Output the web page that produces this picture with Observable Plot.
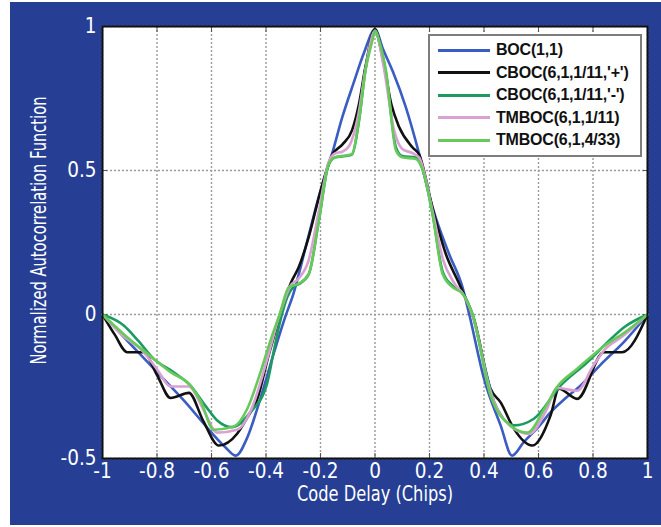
<!DOCTYPE html>
<html>
<head>
<meta charset="utf-8">
<script src="https://cdn.jsdelivr.net/npm/d3@7"></script>
<script src="https://cdn.jsdelivr.net/npm/@observablehq/plot@0.6"></script>
<style>
  html, body { margin: 0; padding: 0; background: #ffffff; }
  body { width: 661px; height: 527px; overflow: hidden; position: relative; }
  #panel { position: absolute; left: 10px; top: 2px; width: 651px; height: 523px; background: #263f95; }
  #legend { position: absolute; left: 428px; top: 34px; width: 210px; height: 116px; background: #fff;
            border: 2px solid #7d7d7d; padding-top: 3px; box-sizing: content-box;
            font-family: "Liberation Sans", Arial, sans-serif; font-weight: bold; font-size: 16px; color: #111; letter-spacing: -0.2px; }
  .row { height: 22.5px; display: flex; align-items: center; }
  .sw { width: 52px; height: 3px; margin-left: 8px; margin-right: 6px; }
</style>
</head>
<body>
<div id="panel"><div id="chart"></div></div>
<div id="legend"></div>
<script>
// ---- data ----
const seriesNames = ["BOC(1,1)", "CBOC(6,1,1/11,'+')", "CBOC(6,1,1/11,'-')", "TMBOC(6,1,1/11)", "TMBOC(6,1,4/33)"];
const seriesColors = ["#3b5cc0", "#111111", "#1c9a62", "#d9a0d2", "#66c95a"];

const boc = [[-1,0],[-0.9,-0.1],[-0.8,-0.2],[-0.7,-0.3],[-0.6,-0.41],[-0.55,-0.46],[-0.51,-0.49],[-0.47,-0.43],[-0.42,-0.29],[-0.37,-0.13],
  [-0.33,-0.01],[-0.3,0.07],[-0.25,0.25],[-0.2,0.43],[-0.157,0.56],[-0.12,0.685],[-0.08,0.8],[-0.04,0.91],[0,0.99],[0.03,0.92],
  [0.064,0.847],[0.113,0.72],[0.162,0.558],[0.211,0.373],[0.272,0.21],[0.321,0.095],[0.346,0],[0.4,-0.223],[0.461,-0.385],[0.503,-0.49],
  [0.546,-0.443],[0.6,-0.39],[0.644,-0.34],[0.7,-0.29],[0.754,-0.247],[0.84,-0.163],[0.913,-0.096],[1,0]];

const cbocPlus = [[-1,0],[-0.955,-0.07],[-0.909,-0.131],[-0.849,-0.131],[-0.8,-0.21],[-0.75,-0.29],[-0.683,-0.272],[-0.63,-0.37],[-0.573,-0.455],[-0.506,-0.414],
  [-0.47,-0.36],[-0.432,-0.293],[-0.39,-0.14],[-0.347,0],[-0.31,0.107],[-0.28,0.164],[-0.243,0.27],[-0.206,0.407],[-0.157,0.555],[-0.12,0.59],
  [-0.084,0.64],[-0.059,0.73],[-0.035,0.86],[0,0.99],[0.03,0.88],[0.06,0.73],[0.089,0.65],[0.138,0.58],[0.162,0.555],[0.211,0.37],
  [0.26,0.21],[0.309,0.107],[0.34,0.04],[0.363,-0.015],[0.424,-0.258],[0.461,-0.305],[0.51,-0.397],[0.577,-0.455],[0.644,-0.351],[0.675,-0.258],
  [0.742,-0.293],[0.84,-0.131],[0.907,-0.131],[1,0]];

const cbocMinus = [[-1,0],[-0.922,-0.038],[-0.87,-0.09],[-0.812,-0.154],[-0.74,-0.2],[-0.677,-0.247],[-0.62,-0.32],[-0.579,-0.368],[-0.524,-0.391],[-0.457,-0.339],
  [-0.396,-0.24],[-0.37,-0.12],[-0.347,-0.02],[-0.322,0.06],[-0.3,0.095],[-0.28,0.105],[-0.243,0.14],[-0.206,0.326],[-0.17,0.52],[-0.145,0.546],
  [-0.108,0.55],[-0.084,0.556],[-0.059,0.67],[-0.035,0.85],[-0.01,0.96],[0,0.985],[0.02,0.93],[0.04,0.84],[0.077,0.58],[0.1,0.55],
  [0.15,0.545],[0.172,0.51],[0.211,0.35],[0.248,0.15],[0.284,0.1],[0.321,0.075],[0.358,0],[0.4,-0.17],[0.436,-0.3],[0.47,-0.36],
  [0.51,-0.385],[0.583,-0.362],[0.681,-0.247],[0.779,-0.166],[0.86,-0.09],[0.913,-0.045],[1,0]];

const tmboc111 = [[-1,0],[-0.93,-0.07],[-0.85,-0.13],[-0.8,-0.19],[-0.75,-0.25],[-0.683,-0.25],[-0.63,-0.33],[-0.579,-0.41],[-0.506,-0.4],[-0.45,-0.32],
  [-0.4,-0.17],[-0.35,0],[-0.31,0.1],[-0.28,0.125],[-0.243,0.19],[-0.206,0.36],[-0.17,0.53],[-0.145,0.56],[-0.12,0.565],[-0.095,0.585],
  [-0.06,0.7],[-0.035,0.85],[0,0.985],[0.03,0.87],[0.07,0.64],[0.1,0.575],[0.138,0.56],[0.162,0.545],[0.211,0.36],[0.25,0.19],
  [0.29,0.11],[0.33,0.06],[0.36,-0.01],[0.424,-0.27],[0.5,-0.39],[0.565,-0.415],[0.63,-0.33],[0.668,-0.255],[0.742,-0.265],[0.8,-0.18],
  [0.84,-0.125],[0.91,-0.075],[1,0]];

const tmboc433 = [[-1,0],[-0.92,-0.07],[-0.83,-0.14],[-0.75,-0.2],[-0.677,-0.247],[-0.64,-0.3],[-0.592,-0.4],[-0.52,-0.39],[-0.47,-0.33],[-0.42,-0.2],
  [-0.38,-0.08],[-0.35,0],[-0.316,0.095],[-0.28,0.107],[-0.243,0.141],[-0.206,0.326],[-0.17,0.523],[-0.145,0.546],[-0.108,0.552],[-0.084,0.558],
  [-0.059,0.674],[-0.035,0.847],[-0.01,0.95],[0,0.985],[0.015,0.95],[0.04,0.847],[0.077,0.57],[0.1,0.546],[0.15,0.54],[0.172,0.51],
  [0.211,0.35],[0.248,0.141],[0.284,0.095],[0.321,0.072],[0.358,0],[0.424,-0.281],[0.497,-0.385],[0.56,-0.41],[0.62,-0.33],[0.668,-0.252],
  [0.74,-0.19],[0.84,-0.11],[0.92,-0.06],[1,0]];

const xTicks = [-1, -0.8, -0.6, -0.4, -0.2, 0, 0.2, 0.4, 0.6, 0.8, 1];
const yTicks = [-0.5, 0, 0.5, 1];
const xLabel = "Code Delay (Chips)";
const yLabel = "Normalized Autocorrelation Function";

// ---- build table ----
const seriesPoints = [boc, cbocPlus, cbocMinus, tmboc111, tmboc433];
const rows = seriesPoints.flatMap((pts, i) => pts.map(([x, y]) => ({x, y, name: seriesNames[i]})));

const font = "'DejaVu Sans Condensed', 'Liberation Sans Narrow', 'DejaVu Sans', sans-serif";
const tickStroke = {stroke: "#555", strokeWidth: 1};

const chart = Plot.plot({
  width: 651, height: 523,
  marginLeft: 92, marginRight: 14, marginTop: 24, marginBottom: 67,
  style: {background: "transparent", color: "white", fontFamily: font, fontSize: "20px", overflow: "visible"},
  x: {domain: [-1, 1]},
  y: {domain: [-0.5, 1]},
  color: {domain: seriesNames, range: seriesColors},
  marks: [
    Plot.frame({fill: "white", stroke: null}),
    Plot.gridX(xTicks, {stroke: "#9a9a9a", strokeOpacity: 1, strokeDasharray: "2,2", strokeWidth: 1.4}),
    Plot.gridY(yTicks, {stroke: "#9a9a9a", strokeOpacity: 1, strokeDasharray: "2,2", strokeWidth: 1.4}),
    Plot.axisX(xTicks, {anchor: "bottom", tickSize: -5, text: null, ...tickStroke, label: null}),
    Plot.axisX(xTicks, {anchor: "top", tickSize: -5, text: null, ...tickStroke, label: null}),
    Plot.axisY(yTicks, {anchor: "left", tickSize: -5, text: null, ...tickStroke, label: null}),
    Plot.axisY(yTicks, {anchor: "right", tickSize: -5, text: null, ...tickStroke, label: null}),
    Plot.axisX(xTicks, {tickSize: 0, tickPadding: 5, tickFormat: d => String(d), fill: "white", fontSize: 20.5, label: null}),
    Plot.axisY(yTicks, {tickSize: 0, tickPadding: 6, tickFormat: d => String(d), fill: "white", fontSize: 20.5, label: null}),
    Plot.line(rows, {x: "x", y: "y", z: "name", stroke: "name", strokeWidth: 2.6, curve: "monotone-x", strokeLinejoin: "round"}),
    Plot.frame({stroke: "#111", strokeWidth: 2}),
    Plot.text([xLabel], {frameAnchor: "bottom", dy: 42, fill: "white", fontSize: 21}),
    Plot.text([yLabel], {frameAnchor: "left", textAnchor: "middle", rotate: -90, dx: -63, dy: -12, fill: "white", fontSize: 21})
  ]
});
document.getElementById("chart").appendChild(chart);

// squeeze the axis titles to the reference's condensed width
chart.querySelectorAll("text").forEach(t => {
  if (t.textContent === yLabel) { t.setAttribute("textLength", 268); t.setAttribute("lengthAdjust", "spacingAndGlyphs"); }
  if (t.textContent === xLabel) { t.setAttribute("textLength", 156); t.setAttribute("lengthAdjust", "spacingAndGlyphs"); }
});

// ---- legend ----
const legend = document.getElementById("legend");
seriesNames.forEach((n, i) => {
  const row = document.createElement("div");
  row.className = "row";
  const sw = document.createElement("div");
  sw.className = "sw";
  sw.style.background = seriesColors[i];
  const t = document.createElement("span");
  t.textContent = n;
  row.appendChild(sw);
  row.appendChild(t);
  legend.appendChild(row);
});
</script>
</body>
</html>
